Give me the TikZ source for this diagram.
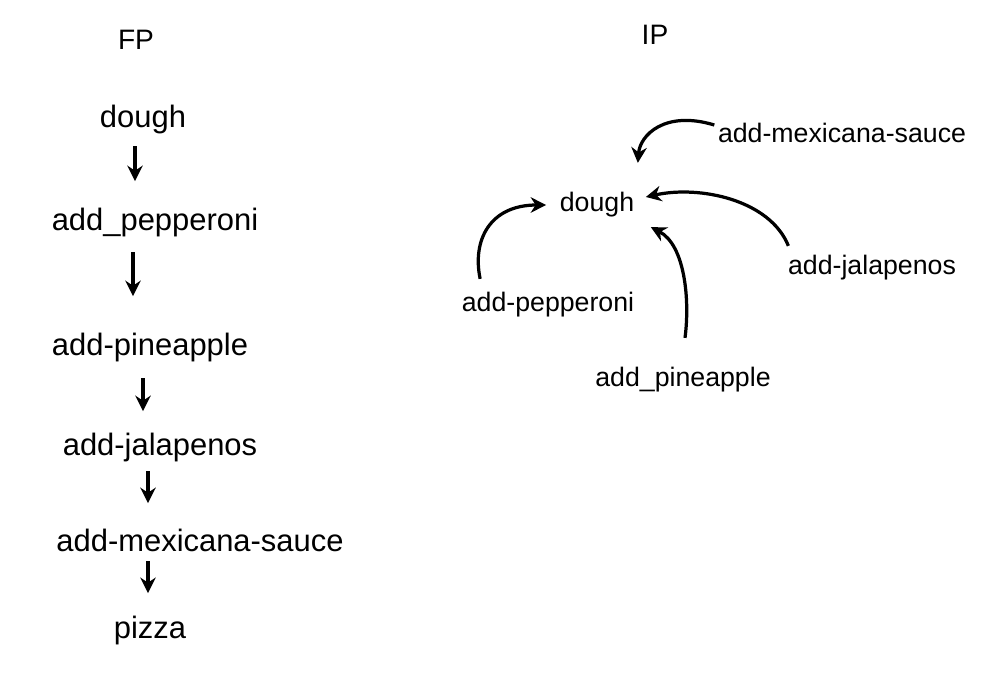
\documentclass[tikz,border=0pt]{standalone}
\usepackage{fontspec}
\setmainfont{Liberation Sans}
\usetikzlibrary{arrows.meta,calc}
\tikzset{
  lbl/.style={inner sep=1pt, font=\fontsize{22}{26}\selectfont},
  rlbl/.style={inner sep=1pt, font=\fontsize{19}{23}\selectfont},
  ttl/.style={inner sep=1pt, font=\fontsize{20}{24}\selectfont},
  arr/.style={line width=2.3pt, -{Stealth[length=11pt,width=11pt]}},
}
\begin{document}
\begin{tikzpicture}[x=0.025cm,y=-0.025cm]
\useasboundingbox (0,0) rectangle (1000,684);
% titles
\node[ttl] (fp) at (136,40) {FP};
\node[ttl] (ip) at (655,35) {IP};
% left column
\node[lbl] (dough) at (143,120) {dough};
\node[lbl] (pep) at (155,222) {add\_pepperoni};
\node[lbl] (pin) at (150,347) {add-pineapple};
\node[lbl] (jal) at (160,447) {add-jalapenos};
\node[lbl] (mex) at (200,540) {add-mexicana-sauce};
\node[lbl] (pizza) at (150,630) {pizza};
\draw[arr] ($(dough.south)+(-8,10)$) -- ($(dough.south)+(-8,45)$);
\draw[arr] ($(pep.south)+(-22,14)$) -- ($(pep.south)+(-22,58)$);
\draw[arr] ($(pin.south)+(-7,15)$) -- ($(pin.south)+(-7,48)$);
\draw[arr] ($(jal.south)+(-12,8)$) -- ($(jal.south)+(-12,40)$);
\draw[arr] ($(mex.south)+(-52,8)$) -- ($(mex.south)+(-52,40)$);
% right side
\node[rlbl] (rdough) at (597,205) {dough};
\node[rlbl] (rmex) at (842,133) {add-mexicana-sauce};
\node[rlbl] (rjal) at (872,268) {add-jalapenos};
\node[rlbl] (rpep) at (548,305) {add-pepperoni};
\node[rlbl] (rpin) at (683,380) {add\_pineapple};
\draw[arr] ($(rmex.west)+(-2,-8)$) .. controls (665,110) and (640,135) .. ($(rdough.north east)+(2,-28)$);
\draw[arr] ($(rjal.north west)+(2,-8)$) .. controls (770,200) and (700,185) .. ($(rdough.east)+(10,-8)$);
\draw[arr] ($(rpin.north)+(2,-28)$) .. controls (690,300) and (685,245) .. ($(rdough.south east)+(15,8)$);
\draw[arr] ($(rpep.north west)+(20,-12)$) .. controls (472,240) and (490,205) .. ($(rdough.west)+(-12,0)$);
\end{tikzpicture}
\end{document}
